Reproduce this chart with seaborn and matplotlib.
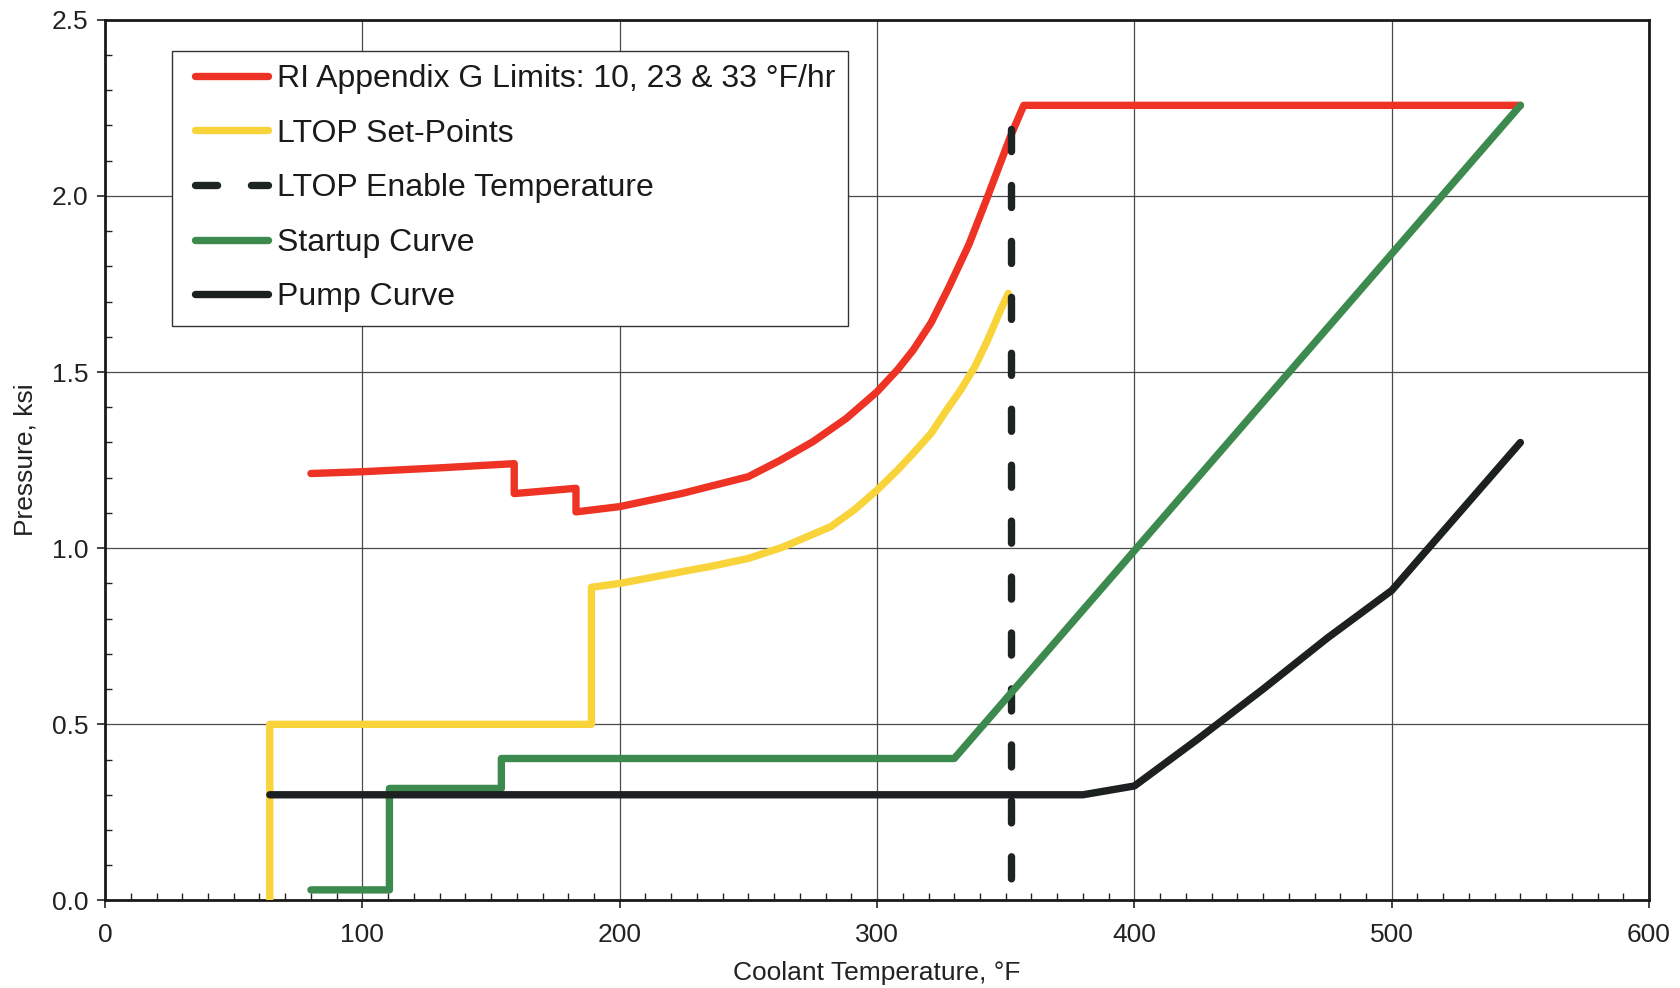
import numpy as np
import pandas as pd
import matplotlib
matplotlib.use("Agg")
import matplotlib.pyplot as plt
import seaborn as sns
from matplotlib.ticker import MultipleLocator
from matplotlib.lines import Line2D
from matplotlib.legend_handler import HandlerLine2D

# ---- data ----
red_x = [80, 100, 130, 159, 159, 183, 183, 200, 224, 250, 262.5, 275, 288, 300, 308, 314, 321,
         328, 335.7, 342.8, 348, 352, 357, 550]
red_y = [1.212, 1.217, 1.228, 1.240, 1.155, 1.170, 1.103, 1.118, 1.155, 1.203, 1.250, 1.302, 1.368,
         1.444, 1.507, 1.562, 1.640, 1.742, 1.862, 1.995, 2.095, 2.172, 2.257, 2.257]

yellow_x = [64, 64, 189, 189, 200, 224, 236.5, 250, 263, 282, 291, 300, 308, 314, 321, 327,
            332.5, 338, 343, 348, 351]
yellow_y = [0.0, 0.5, 0.5, 0.889, 0.900, 0.933, 0.950, 0.971, 1.002, 1.061, 1.108, 1.165, 1.222,
            1.269, 1.326, 1.392, 1.449, 1.515, 1.591, 1.676, 1.723]

enable_x = [352, 352]
enable_y = [2.19, 0.0]

green_x = [80, 110.5, 110.5, 154, 154, 330, 550]
green_y = [0.03, 0.03, 0.318, 0.318, 0.403, 0.403, 2.257]

pump_x = [64, 380, 400, 425, 450, 475, 500, 550]
pump_y = [0.30, 0.30, 0.325, 0.46, 0.60, 0.745, 0.88, 1.30]

labels = ["RI Appendix G Limits: 10, 23 & 33 \u00b0F/hr", "LTOP Set-Points",
          "LTOP Enable Temperature", "Startup Curve", "Pump Curve"]
colors = ["#EE3224", "#F8D43A", "#1C2424", "#3C8A4E", "#1C2020"]

x_ticks = [0, 100, 200, 300, 400, 500, 600]
y_ticks = [0.0, 0.5, 1.0, 1.5, 2.0, 2.5]

sns.set_style("ticks")
plt.rcParams['font.family'] = ['Liberation Sans Narrow', 'Liberation Sans', 'DejaVu Sans']

fig = plt.figure(figsize=(16.81, 9.88), dpi=100)
ax = fig.add_axes([0.0625, 0.0886, 0.9185, 0.8914])

series = [(red_x, red_y), (yellow_x, yellow_y), (enable_x, enable_y), (green_x, green_y), (pump_x, pump_y)]
for i, ((xs, ys), lab, col) in enumerate(zip(series, labels, colors)):
    df = pd.DataFrame({"x": xs, "y": ys})
    kw = dict(solid_capstyle="round", solid_joinstyle="round", dash_capstyle="round")
    if i == 2:
        kw["linestyle"] = "--"
    sns.lineplot(data=df, x="x", y="y", ax=ax, sort=False, estimator=None,
                 color=col, linewidth=5.3, label=lab, zorder=3 + i, **kw)
    if i == 2:
        ax.lines[-1].set_dashes((3.0, 4.6))

ax.set_xlim(0, 600)
ax.set_ylim(0, 2.5)
ax.set_xticks(x_ticks)
ax.set_yticks(y_ticks)
ax.set_yticklabels([f"{v:.1f}" for v in y_ticks])
ax.xaxis.set_minor_locator(MultipleLocator(10))
ax.yaxis.set_minor_locator(MultipleLocator(0.1))
ax.grid(True, which="major", color="#4a4a4a", linewidth=0.9)
ax.set_axisbelow(True)
ax.tick_params(which="major", direction="out", length=6, width=1.2, color="#222222",
               labelsize=19, labelcolor="#222222", pad=6)
ax.tick_params(axis="x", which="major", pad=10)
ax.tick_params(which="minor", direction="in", length=5, width=1.0, color="#222222")
for s in ax.spines.values():
    s.set_visible(True)
    s.set_linewidth(2.0)
    s.set_color("#1a1a1a")

ax.set_xlabel("Coolant Temperature, \u00b0F", fontsize=19, color="#222222", labelpad=10)
ax.set_ylabel("Pressure, ksi", fontsize=19, color="#222222", labelpad=10)

leg = ax.legend(loc="upper left", bbox_to_anchor=(0.0434, 0.965), borderaxespad=0,
                fontsize=23, frameon=True, fancybox=False, shadow=False,
                handlelength=2.57, handletextpad=0.28, labelspacing=0.77,
                borderpad=0.42, handler_map={Line2D: HandlerLine2D(xpad=0.31)})
leg.get_frame().set_edgecolor("#333333")
leg.get_frame().set_linewidth(1.0)
leg.get_frame().set_alpha(1.0)
for t in leg.get_texts():
    t.set_color("#1a1a1a")

fig.savefig("out.png", dpi=100, facecolor="white")
